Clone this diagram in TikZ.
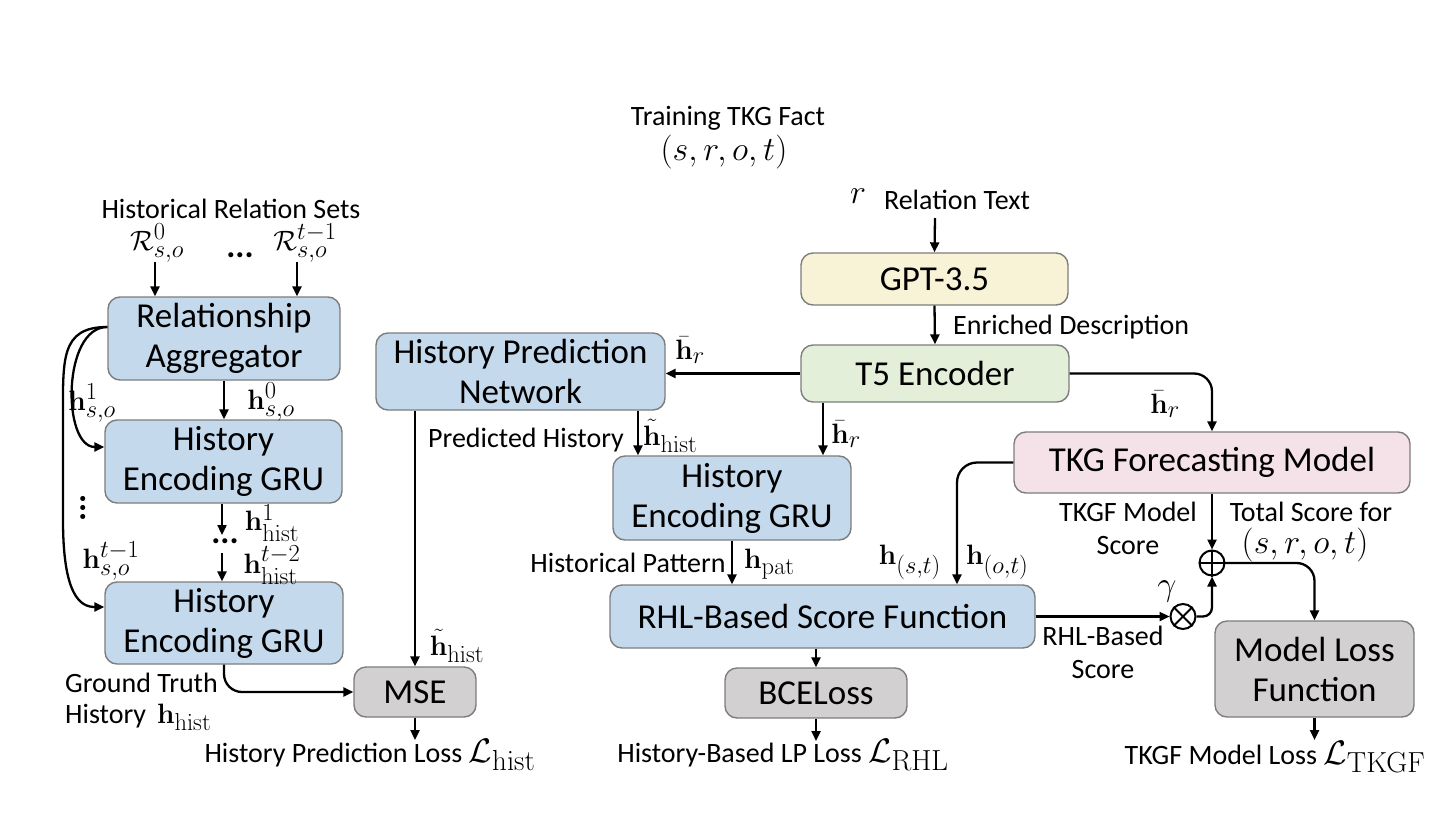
\RequirePackage{fix-cm}
\documentclass[tikz,border=0pt]{standalone}
\usepackage{amsmath}
\usepackage[no-math]{fontspec}
\setmainfont{Carlito}
\usetikzlibrary{arrows.meta}
\DeclareMathSizes{28}{28}{24.5}{20}
\DeclareMathSizes{34}{34}{29}{24}
\definecolor{bluefill}{RGB}{197,217,237}
\definecolor{yellowfill}{RGB}{248,243,215}
\definecolor{greenfill}{RGB}{228,239,218}
\definecolor{pinkfill}{RGB}{245,226,232}
\definecolor{grayfill}{RGB}{210,208,208}
\definecolor{boxline}{RGB}{125,125,125}
\newcommand\lblfont{\fontsize{28}{33}\selectfont}
\newcommand\mfont{\fontsize{28}{30}\selectfont}
\newcommand\mbig{\fontsize{34}{36}\selectfont}
\begin{document}
\begin{tikzpicture}[x=1pt,y=-1pt,
  box/.style={draw=boxline, line width=1.4pt, rounded corners=12pt, align=center, inner sep=0pt, font=\fontsize{35}{40}\selectfont},
  bluebox/.style={box, fill=bluefill},
  graybox/.style={box, fill=grayfill},
  arr/.style={-{Triangle[length=10pt,width=9pt]}, line width=2.3pt},
  lbl/.style={inner sep=0pt, font=\lblfont},
  mlbl/.style={inner sep=0pt, font=\mfont},
  bmlbl/.style={inner sep=0pt, font=\mbig},
  opnode/.style={circle, draw, line width=2pt, minimum size=25pt, inner sep=0pt}
]
\useasboundingbox[fill=white] (0,0) rectangle (1456,814);

% ---------- boxes ----------
\node[bluebox, minimum width=232pt, minimum height=83pt] (ra) at (224,338.5) {Relationship\\Aggregator};
\node[bluebox, minimum width=237pt, minimum height=83pt] (gru1) at (223.5,461.5) {History\\Encoding GRU};
\node[bluebox, minimum width=238pt, minimum height=82pt] (gru2) at (224,623) {History\\Encoding GRU};
\node[bluebox, minimum width=289pt, minimum height=77pt] (hpn) at (520.5,371.5) {History Prediction\\Network};
\node[graybox, minimum width=122pt, minimum height=50pt] (mse) at (415,692) {MSE};
\node[box, fill=yellowfill, minimum width=267pt, minimum height=52pt] (gpt) at (934.5,279) {GPT-3.5};
\node[box, fill=greenfill, minimum width=268pt, minimum height=57pt] (t5) at (935,373.5) {T5 Encoder};
\node[bluebox, minimum width=238pt, minimum height=84pt] (grum) at (732,498) {History\\Encoding GRU};
\node[bluebox, minimum width=425pt, minimum height=63pt] (rhl) at (822.5,616.5) {RHL-Based Score Function};
\node[graybox, minimum width=182pt, minimum height=50pt] (bce) at (816,693) {BCELoss};
\node[box, fill=pinkfill, minimum width=396pt, minimum height=61pt] (tkg) at (1212,462.5) {TKG Forecasting Model};
\node[graybox, minimum width=199pt, minimum height=96pt] (mlf) at (1314.5,669) {Model Loss\\Function};

\node[opnode] (plus) at (1212,563) {};
\draw[line width=2pt] (plus.north) -- (plus.south) (plus.west) -- (plus.east);
\node[opnode] (times) at (1183,616.5) {};
\draw[line width=2pt] (times.north west) -- (times.south east) (times.north east) -- (times.south west);

% ---------- top texts ----------
\node[lbl] (fact) at (728,118) {Training TKG Fact};
\node[bmlbl] (factm) at (724,152) {$(s,r,o,t)$};
\node[bmlbl] (rsym) at (858,196) {$r$};
\node[lbl] (reltext) at (957,200) {Relation Text};
\coordinate (rin) at (935,218);
\draw[arr] (rin) -- (gpt.north);
\draw[arr] (gpt.south) -- (t5.north);
\node[lbl, anchor=west] (enr) at (953,327) {Enriched Description};

% ---------- T5 outputs ----------
\draw[arr] (t5.west) -- (t5.west -| hpn.east);
\node[mlbl] (hr1) at (690,350) {$\bar{\mathbf{h}}_r$};
\coordinate (tx) at (823,0);
\draw[arr] (tx |- t5.south) -- (tx |- grum.north);
\node[mlbl] (hr2) at (846,434) {$\bar{\mathbf{h}}_r$};
\draw[arr, rounded corners=18pt] (t5.east) -| (tkg.north);
\node[mlbl] (hr3) at (1165,404) {$\bar{\mathbf{h}}_r$};

% ---------- HPN outputs ----------
\coordinate (px) at (638,0);
\draw[arr] (px |- hpn.south) -- (px |- grum.north);
\node[lbl] (predh) at (526,440) {Predicted History};
\node[mlbl, anchor=west] (ht1) at (643,436) {$\tilde{\mathbf{h}}_{\mathrm{hist}}$};
\draw[arr] (mse.north |- hpn.south) -- (mse.north);
\node[mlbl] (ht2) at (457,646) {$\tilde{\mathbf{h}}_{\mathrm{hist}}$};

% ---------- middle ----------
\draw[arr] (grum.south) -- (grum.south |- rhl.north);
\node[lbl] (hpat) at (628,563) {Historical Pattern};
\node[mlbl, anchor=west] (hpatm) at (744,564) {$\mathbf{h}_{\mathrm{pat}}$};
\draw[arr] (bce.north |- rhl.south) -- (bce.north);
\coordinate (bout) at (816,741);
\draw[arr] (bce.south) -- (bout);
\node[lbl] (lrhl) at (783,755) {History-Based LP Loss {\mbig$\mathcal{L}_{\mathrm{RHL}}$}};

% ---------- TKG part ----------
\draw[arr, rounded corners=20pt] (tkg.west) -| ([xshift=134.5pt]rhl.north);
\node[mlbl, anchor=east] (hst) at (941,562) {$\mathbf{h}_{(s,t)}$};
\node[mlbl, anchor=west] (hot) at (966,562) {$\mathbf{h}_{(o,t)}$};
\draw[arr] (tkg.south) -- (plus.north);
\node[lbl, align=center] (tkgfs) at (1128,528) {TKGF Model\\Score};
\node[lbl] (tot) at (1311,512) {Total Score for};
\node[bmlbl] (totm) at (1305,545) {$(s,r,o,t)$};
\draw[arr] (rhl.east) -- (times.west);
\node[bmlbl] (gam) at (1167,591) {$\gamma$};
\node[lbl, align=center] (rhls) at (1103,652) {RHL-Based\\Score};
\draw[arr, rounded corners=9pt] (times.east) -| (plus.south);
\draw[arr, rounded corners=18pt] (plus.east) -| (mlf.north);
\coordinate (mout) at (1314.5,740);
\draw[arr] (mlf.south) -- (mout);
\node[lbl] (ltkgf) at (1275,757) {TKGF Model Loss {\mbig$\mathcal{L}_{\mathrm{TKGF}}$}};

% ---------- left part ----------
\node[lbl] (hrs) at (231,209) {Historical Relation Sets};
\node[mlbl] (r0) at (157,243) {$\mathcal{R}^{0}_{s,o}$};
\node[mlbl] (rt) at (305,243) {$\mathcal{R}^{t-1}_{s,o}$};
\node[inner sep=0pt, font=\fontsize{34}{34}\selectfont\bfseries] (dotsA) at (240,255) {...};
\coordinate (r0a) at (155,262);
\coordinate (rta) at (297,262);
\draw[arr] (r0a) -- (r0a |- ra.north);
\draw[arr] (rta) -- (rta |- ra.north);
\draw[arr] (ra.south) -- (ra.south |- gru1.north);
\node[mlbl] (h0) at (271,402) {$\mathbf{h}^{0}_{s,o}$};
\draw[arr] (ra.west |- 0,327) .. controls (62,327) and (62,447) .. (gru1.west |- 0,447);
\draw[arr] (ra.west |- 0,327) .. controls (60,327) and (63,360) .. (63,420) -- (63,520) .. controls (63,595) and (80,607) .. (gru2.west |- 0,607);
\node[mlbl] (h1) at (92,403) {$\mathbf{h}^{1}_{s,o}$};
\node[inner sep=0pt, font=\fontsize{34}{34}\selectfont\bfseries, rotate=90] (vd) at (83,508) {...};
\node[mlbl] (htm) at (111,561) {$\mathbf{h}^{t-1}_{s,o}$};
\coordinate (gmid) at (222,535);
\draw[arr] (gru1.south -| gmid) -- (gmid);
\node[inner sep=0pt, font=\fontsize{34}{34}\selectfont\bfseries] (dotsB) at (225,541) {...};
\coordinate (gmid2) at (222,553);
\draw[arr] (gmid2) -- (gmid2 |- gru2.north);
\node[mlbl] (hh1) at (272,523) {$\mathbf{h}^{1}_{\mathrm{hist}}$};
\node[mlbl] (hh2) at (272,565) {$\mathbf{h}^{t-2}_{\mathrm{hist}}$};
\draw[arr, rounded corners=18pt] (gru2.south) |- (mse.west);
\node[lbl, anchor=west] (gt1) at (65,683) {Ground Truth};
\node[lbl, anchor=west] (gt2) at (65,717) {History\, {\mfont$\mathbf{h}_{\mathrm{hist}}$}};
\coordinate (mseout) at (415,740);
\draw[arr] (mse.south) -- (mseout);
\node[lbl] (lhist) at (370,755) {History Prediction Loss {\mbig$\mathcal{L}_{\mathrm{hist}}$}};
\end{tikzpicture}
\end{document}
